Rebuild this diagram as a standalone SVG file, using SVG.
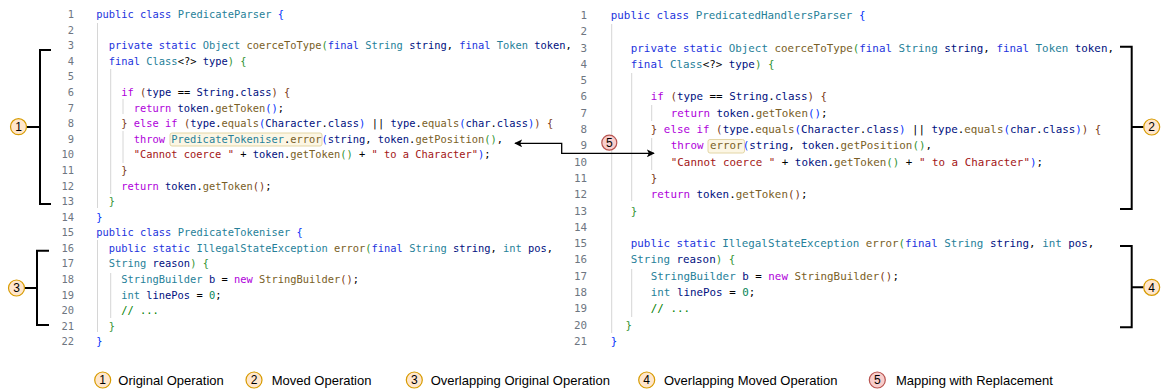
<svg xmlns="http://www.w3.org/2000/svg" width="1163" height="391" viewBox="0 0 1163 391">
  <style>
    .code { font-family: "DejaVu Sans Mono", "Liberation Mono", monospace; fill: #000; }
    .left { font-size: 10.4px; }
    .right { font-size: 10.85px; }
    .ln { fill: #6e7681; text-anchor: end; }
    .k { fill: #2233dd; }
    .c { fill: #af00db; }
    .t { fill: #267f99; }
    .f { fill: #795e26; }
    .v { fill: #001080; }
    .s { fill: #a31515; }
    .n { fill: #098658; }
    .cm { fill: #008000; }
    .b1 { fill: #0431fa; }
    .b2 { fill: #319331; }
    .b3 { fill: #7b3814; }
    .guide { stroke: #d6d6d6; stroke-width: 1; fill: none; }
    .hl { fill: #fcf6e4; stroke: #e3d6a6; stroke-width: 1; }
    .bracket { stroke: #000; stroke-width: 2; fill: none; }
    .op { fill: #ffe6cc; stroke: #d79b00; stroke-width: 1.2; }
    .map { fill: #f8cecc; stroke: #b85450; stroke-width: 1.2; }
    .num { font-family: "Liberation Sans", Arial, sans-serif; font-size: 12px; text-anchor: middle; fill: #000; }
    .legend { font-family: "Liberation Sans", Arial, sans-serif; font-size: 13px; fill: #000; }
    .conn { stroke: #000; stroke-width: 1.3; fill: none; }
  </style>
  <defs>
    <marker id="arrow" viewBox="0 0 10 10" refX="9" refY="5" markerWidth="8" markerHeight="8" markerUnits="userSpaceOnUse" orient="auto-start-reverse">
      <path d="M0,0 L10,5 L0,10 L2.5,5 Z" fill="#000"/>
    </marker>
  </defs>

  <rect width="1163" height="391" fill="#fff"/>

  <!-- left source: PredicateParser / PredicateTokeniser -->
  <g id="left-code">
    <path class="guide" d="M97.5,23 V208 M110.7,69 V194 M123,99 V114 M123,131 V163 M97.5,240 V332 M110.7,273 V318"/>
    <rect class="hl" x="170" y="133" width="152" height="13" rx="2"/>
    <g class="code left ln">
      <text x="74" y="18">1</text><text x="74" y="33.6">2</text><text x="74" y="49.2">3</text><text x="74" y="64.8">4</text>
      <text x="74" y="80.4">5</text><text x="74" y="96">6</text><text x="74" y="111.5">7</text><text x="74" y="127.1">8</text>
      <text x="74" y="142.7">9</text><text x="74" y="158.3">10</text><text x="74" y="173.9">11</text><text x="74" y="189.5">12</text>
      <text x="74" y="205.1">13</text><text x="74" y="220.7">14</text><text x="74" y="236.3">15</text><text x="74" y="251.9">16</text>
      <text x="74" y="267.4">17</text><text x="74" y="283">18</text><text x="74" y="298.6">19</text><text x="74" y="314.2">20</text>
      <text x="74" y="329.8">21</text><text x="74" y="345.4">22</text>
    </g>
    <g class="code left" xml:space="preserve">
      <text x="96.3" y="18"><tspan class="k">public class </tspan><tspan class="t">PredicateParser</tspan> <tspan class="b1">{</tspan></text>
      <text x="108.8" y="49.2"><tspan class="k">private static </tspan><tspan class="t">Object </tspan><tspan class="f">coerceToType</tspan><tspan class="b2">(</tspan><tspan class="k">final </tspan><tspan class="t">String </tspan><tspan class="v">string</tspan>, <tspan class="k">final </tspan><tspan class="t">Token </tspan><tspan class="v">token</tspan>,</text>
      <text x="108.8" y="64.8"><tspan class="k">final </tspan><tspan class="t">Class</tspan>&lt;?&gt; <tspan class="v">type</tspan><tspan class="b2">)</tspan> <tspan class="b2">{</tspan></text>
      <text x="121.3" y="96"><tspan class="c">if </tspan><tspan class="b3">(</tspan><tspan class="v">type</tspan> == <tspan class="v">String</tspan>.<tspan class="v">class</tspan><tspan class="b3">)</tspan> <tspan class="b3">{</tspan></text>
      <text x="133.8" y="111.5"><tspan class="c">return </tspan><tspan class="v">token</tspan>.<tspan class="f">getToken</tspan><tspan class="b1">()</tspan>;</text>
      <text x="121.3" y="127.1"><tspan class="b3">}</tspan> <tspan class="c">else if </tspan><tspan class="b3">(</tspan><tspan class="v">type</tspan>.<tspan class="f">equals</tspan><tspan class="b1">(</tspan><tspan class="v">Character</tspan>.<tspan class="v">class</tspan><tspan class="b1">)</tspan> || <tspan class="v">type</tspan>.<tspan class="f">equals</tspan><tspan class="b1">(</tspan><tspan class="v">char</tspan>.<tspan class="v">class</tspan><tspan class="b1">)</tspan><tspan class="b3">)</tspan> <tspan class="b3">{</tspan></text>
      <text x="133.8" y="142.7"><tspan class="c">throw </tspan><tspan class="t">PredicateTokeniser</tspan>.<tspan class="f">error</tspan><tspan class="b1">(</tspan><tspan class="v">string</tspan>, <tspan class="v">token</tspan>.<tspan class="f">getPosition</tspan><tspan class="b2">()</tspan>,</text>
      <text x="133.8" y="158.3"><tspan class="s">"Cannot coerce "</tspan> + <tspan class="v">token</tspan>.<tspan class="f">getToken</tspan><tspan class="b2">()</tspan> + <tspan class="s">" to a Character"</tspan><tspan class="b1">)</tspan>;</text>
      <text x="121.3" y="173.9"><tspan class="b3">}</tspan></text>
      <text x="121.3" y="189.5"><tspan class="c">return </tspan><tspan class="v">token</tspan>.<tspan class="f">getToken</tspan><tspan class="b3">()</tspan>;</text>
      <text x="108.8" y="205.1"><tspan class="b2">}</tspan></text>
      <text x="96.3" y="220.7"><tspan class="b1">}</tspan></text>
      <text x="96.3" y="236.3"><tspan class="k">public class </tspan><tspan class="t">PredicateTokeniser</tspan> <tspan class="b1">{</tspan></text>
      <text x="108.8" y="251.9"><tspan class="k">public static </tspan><tspan class="t">IllegalStateException </tspan><tspan class="f">error</tspan><tspan class="b2">(</tspan><tspan class="k">final </tspan><tspan class="t">String </tspan><tspan class="v">string</tspan>, <tspan class="t">int </tspan><tspan class="v">pos</tspan>,</text>
      <text x="108.8" y="267.4"><tspan class="t">String </tspan><tspan class="v">reason</tspan><tspan class="b2">)</tspan> <tspan class="b2">{</tspan></text>
      <text x="121.3" y="283"><tspan class="t">StringBuilder </tspan><tspan class="v">b</tspan> = <tspan class="c">new </tspan><tspan class="f">StringBuilder</tspan><tspan class="b3">()</tspan>;</text>
      <text x="121.3" y="298.6"><tspan class="t">int </tspan><tspan class="v">linePos</tspan> = <tspan class="n">0</tspan>;</text>
      <text x="121.3" y="314.2"><tspan class="cm">// ...</tspan></text>
      <text x="108.8" y="329.8"><tspan class="b2">}</tspan></text>
      <text x="96.3" y="345.4"><tspan class="b1">}</tspan></text>
    </g>
  </g>

  <!-- right source: PredicatedHandlersParser -->
  <g id="right-code">
    <path class="guide" d="M611.7,24 V333 M631.7,73 V201 M651.7,105 V121 M651.7,138 V170 M631.7,269 V317"/>
    <rect class="hl" x="708" y="139.5" width="36.5" height="13.5" rx="2"/>
    <g class="code right ln">
      <text x="587" y="18.9">1</text><text x="587" y="35.2">2</text><text x="587" y="51.5">3</text><text x="587" y="67.8">4</text>
      <text x="587" y="84.1">5</text><text x="587" y="100.4">6</text><text x="587" y="116.7">7</text><text x="587" y="133">8</text>
      <text x="587" y="149.3">9</text><text x="587" y="165.6">10</text><text x="587" y="181.9">11</text><text x="587" y="198.2">12</text>
      <text x="587" y="214.5">13</text><text x="587" y="230.8">14</text><text x="587" y="247.1">15</text><text x="587" y="263.4">16</text>
      <text x="587" y="279.7">17</text><text x="587" y="296">18</text><text x="587" y="312.3">19</text><text x="587" y="328.6">20</text>
      <text x="587" y="344.9">21</text>
    </g>
    <g class="code right" xml:space="preserve">
      <text x="610.8" y="18.9"><tspan class="k">public class </tspan><tspan class="t">PredicatedHandlersParser</tspan> <tspan class="b1">{</tspan></text>
      <text x="630.8" y="51.5"><tspan class="k">private static </tspan><tspan class="t">Object </tspan><tspan class="f">coerceToType</tspan><tspan class="b2">(</tspan><tspan class="k">final </tspan><tspan class="t">String </tspan><tspan class="v">string</tspan>, <tspan class="k">final </tspan><tspan class="t">Token </tspan><tspan class="v">token</tspan>,</text>
      <text x="630.8" y="67.8"><tspan class="k">final </tspan><tspan class="t">Class</tspan>&lt;?&gt; <tspan class="v">type</tspan><tspan class="b2">)</tspan> <tspan class="b2">{</tspan></text>
      <text x="650.8" y="100.4"><tspan class="c">if </tspan><tspan class="b3">(</tspan><tspan class="v">type</tspan> == <tspan class="v">String</tspan>.<tspan class="v">class</tspan><tspan class="b3">)</tspan> <tspan class="b3">{</tspan></text>
      <text x="670.8" y="116.7"><tspan class="c">return </tspan><tspan class="v">token</tspan>.<tspan class="f">getToken</tspan><tspan class="b1">()</tspan>;</text>
      <text x="650.8" y="133"><tspan class="b3">}</tspan> <tspan class="c">else if </tspan><tspan class="b3">(</tspan><tspan class="v">type</tspan>.<tspan class="f">equals</tspan><tspan class="b1">(</tspan><tspan class="v">Character</tspan>.<tspan class="v">class</tspan><tspan class="b1">)</tspan> || <tspan class="v">type</tspan>.<tspan class="f">equals</tspan><tspan class="b1">(</tspan><tspan class="v">char</tspan>.<tspan class="v">class</tspan><tspan class="b1">)</tspan><tspan class="b3">)</tspan> <tspan class="b3">{</tspan></text>
      <text x="670.8" y="149.3"><tspan class="c">throw </tspan><tspan class="f">error</tspan><tspan class="b1">(</tspan><tspan class="v">string</tspan>, <tspan class="v">token</tspan>.<tspan class="f">getPosition</tspan><tspan class="b2">()</tspan>,</text>
      <text x="670.8" y="165.6"><tspan class="s">"Cannot coerce "</tspan> + <tspan class="v">token</tspan>.<tspan class="f">getToken</tspan><tspan class="b2">()</tspan> + <tspan class="s">" to a Character"</tspan><tspan class="b1">)</tspan>;</text>
      <text x="650.8" y="181.9"><tspan class="b3">}</tspan></text>
      <text x="650.8" y="198.2"><tspan class="c">return </tspan><tspan class="v">token</tspan>.<tspan class="f">getToken</tspan><tspan class="b3">()</tspan>;</text>
      <text x="630.8" y="214.5"><tspan class="b2">}</tspan></text>
      <text x="630.8" y="247.1"><tspan class="k">public static </tspan><tspan class="t">IllegalStateException </tspan><tspan class="f">error</tspan><tspan class="b2">(</tspan><tspan class="k">final </tspan><tspan class="t">String </tspan><tspan class="v">string</tspan>, <tspan class="t">int </tspan><tspan class="v">pos</tspan>,</text>
      <text x="630.8" y="263.4"><tspan class="t">String </tspan><tspan class="v">reason</tspan><tspan class="b2">)</tspan> <tspan class="b2">{</tspan></text>
      <text x="650.8" y="279.7"><tspan class="t">StringBuilder </tspan><tspan class="v">b</tspan> = <tspan class="c">new </tspan><tspan class="f">StringBuilder</tspan><tspan class="b3">()</tspan>;</text>
      <text x="650.8" y="296"><tspan class="t">int </tspan><tspan class="v">linePos</tspan> = <tspan class="n">0</tspan>;</text>
      <text x="650.8" y="312.3"><tspan class="cm">// ...</tspan></text>
      <text x="625.5" y="328.6"><tspan class="b2">}</tspan></text>
      <text x="610.8" y="344.9"><tspan class="b1">}</tspan></text>
    </g>
  </g>

  <!-- operation brackets with their badges -->
  <g id="op1">
    <path class="bracket" d="M51,50 H40 V204 H51 M40,127 H26.5"/>
    <circle class="op" cx="18.5" cy="126.7" r="8"/>
    <text class="num" x="18.5" y="131">1</text>
  </g>
  <g id="op2">
    <path class="bracket" d="M1120,46.7 H1131.7 V209 H1120 M1131.7,127 H1143.7"/>
    <circle class="op" cx="1151.7" cy="127" r="8"/>
    <text class="num" x="1151.7" y="131.3">2</text>
  </g>
  <g id="op3">
    <path class="bracket" d="M49,250.7 H37 V325 H49 M37,288 H24.5"/>
    <circle class="op" cx="16.5" cy="288" r="8"/>
    <text class="num" x="16.5" y="292.3">3</text>
  </g>
  <g id="op4">
    <path class="bracket" d="M1120,246 H1131.7 V327.3 H1120 M1131.7,287.3 H1143.7"/>
    <circle class="op" cx="1151.7" cy="287.3" r="8"/>
    <text class="num" x="1151.7" y="291.6">4</text>
  </g>
  <g id="map5">
    <circle class="map" cx="609.3" cy="142.7" r="7.5"/>
    <text class="num" x="609.3" y="147">5</text>
  </g>

  <!-- replacement mapping connector -->
  <g id="connectors">
    <path class="conn" d="M515,143.3 H561.7 V153.3 H654" marker-start="url(#arrow)" marker-end="url(#arrow)"/>
  </g>

  <!-- legend -->
  <g id="legend">
    <circle class="op" cx="102.7" cy="380" r="8"/><text class="num" x="102.7" y="384.3">1</text>
    <text class="legend" x="118.3" y="384.5">Original Operation</text>
    <circle class="op" cx="254" cy="380" r="8"/><text class="num" x="254" y="384.3">2</text>
    <text class="legend" x="271.7" y="384.5">Moved Operation</text>
    <circle class="op" cx="414.3" cy="380" r="8"/><text class="num" x="414.3" y="384.3">3</text>
    <text class="legend" x="430.7" y="384.5">Overlapping Original Operation</text>
    <circle class="op" cx="646.7" cy="380" r="8"/><text class="num" x="646.7" y="384.3">4</text>
    <text class="legend" x="664" y="384.5">Overlapping Moved Operation</text>
    <circle class="map" cx="877.3" cy="380" r="8"/><text class="num" x="877.3" y="384.3">5</text>
    <text class="legend" x="896" y="384.5">Mapping with Replacement</text>
  </g>
</svg>
